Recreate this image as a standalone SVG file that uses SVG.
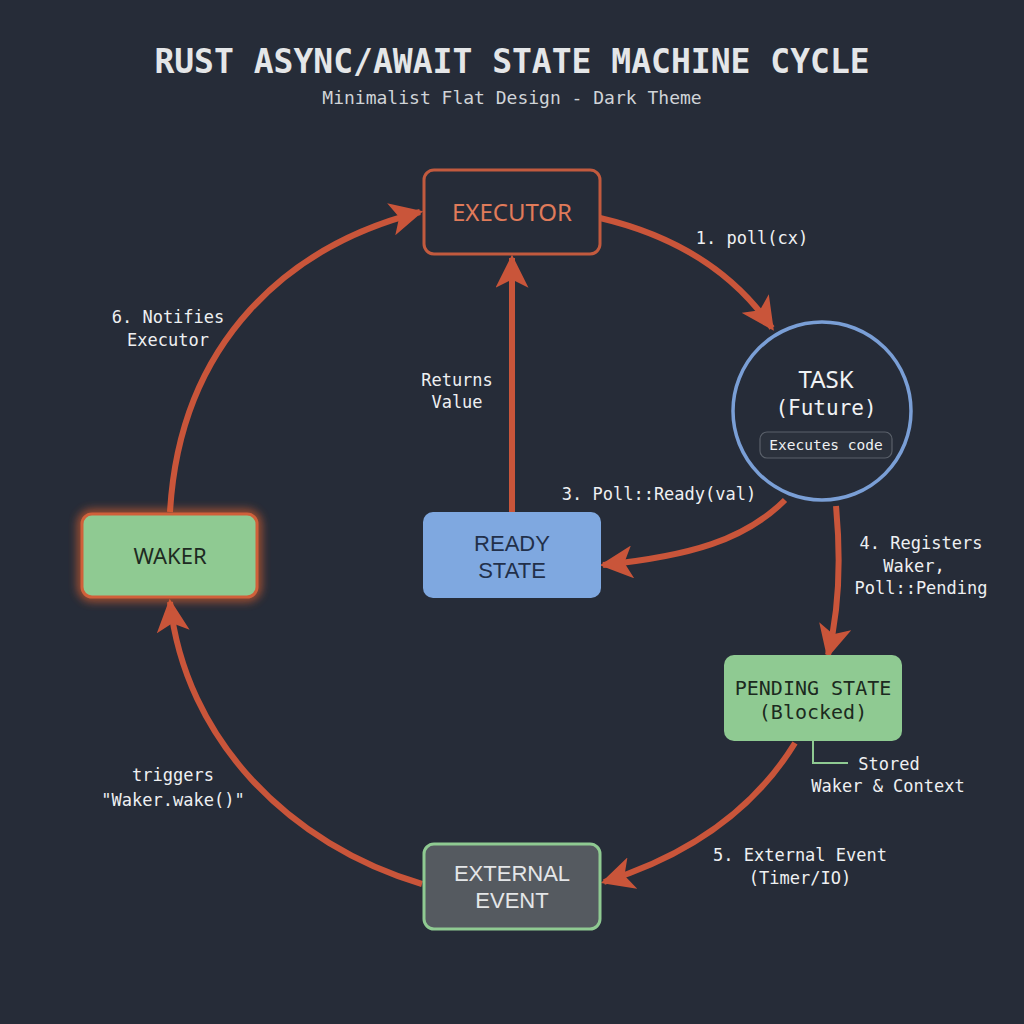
<svg xmlns="http://www.w3.org/2000/svg" width="1024" height="1024" viewBox="0 0 1024 1024">
<defs>
<marker id="ah" viewBox="0 0 10 10" refX="9" refY="5" markerWidth="5.5" markerHeight="5.5" markerUnits="strokeWidth" orient="auto">
<path d="M0,0 L10,5 L0,10 L2.5,5 Z" fill="#c9553a"/>
</marker>
<filter id="glow" x="-30%" y="-30%" width="160%" height="160%">
<feGaussianBlur stdDeviation="5"/>
</filter>
</defs>
<style>
.mono{font-family:"DejaVu Sans Mono","Liberation Mono",monospace}
.sans{font-family:"Noto Sans","Open Sans",sans-serif}
.sans2{font-family:"Liberation Sans","Noto Sans",sans-serif}
.lbl{font-family:"DejaVu Sans Mono","Liberation Mono",monospace;font-size:17px;fill:#eef0f2;text-anchor:middle}
.arr{fill:none;stroke:#c9553a;stroke-width:6;marker-end:url(#ah)}
</style>
<rect width="1024" height="1024" fill="#262c38"/>
<g id="title">
<text x="512" y="73" class="mono" font-size="33" font-weight="bold" fill="#e4e6e8" text-anchor="middle">RUST ASYNC/AWAIT STATE MACHINE CYCLE</text>
<text x="512" y="104" class="mono" font-size="18" fill="#d0d4d8" text-anchor="middle">Minimalist Flat Design - Dark Theme</text>
</g>
<g id="connectors">
<path class="arr" d="M600,218 Q715,245 772,328"/>
<path class="arr" d="M512,512 L512,258"/>
<path class="arr" d="M785,500 C745,540 690,556 603,565"/>
<path class="arr" d="M836,506 C842,570 838,615 828,655"/>
<path class="arr" d="M795,743 C760,800 700,852 604,882"/>
<path class="arr" d="M422,884 C290,845 185,740 170,602"/>
<path class="arr" d="M170,512 C180,340 290,245 420,212"/>
<path d="M813,741 L813,763 L848,763" fill="none" stroke="#8fca92" stroke-width="2"/>
</g>
<g id="labels">
<text x="752" y="244" class="lbl">1. poll(cx)</text>
<text x="457" y="386" class="lbl">Returns</text>
<text x="457" y="408" class="lbl">Value</text>
<text x="659" y="500" class="lbl">3. Poll::Ready(val)</text>
<text x="921" y="549" class="lbl">4. Registers</text>
<text x="914" y="572" class="lbl">Waker,</text>
<text x="921" y="594" class="lbl">Poll::Pending</text>
<text x="889" y="770" class="lbl">Stored</text>
<text x="888" y="792" class="lbl">Waker &amp; Context</text>
<text x="800" y="861" class="lbl">5. External Event</text>
<text x="800" y="884" class="lbl">(Timer/IO)</text>
<text x="173" y="781" class="lbl">triggers</text>
<text x="173" y="806" class="lbl">"Waker.wake()"</text>
<text x="168" y="323" class="lbl">6. Notifies</text>
<text x="168" y="346" class="lbl">Executor</text>
</g>
<g id="executor">
<rect x="424" y="170" width="176" height="84" rx="10" fill="#262c38" stroke="#c25a3e" stroke-width="3"/>
<text x="512" y="221" class="sans" font-size="24" fill="#e07b5a" text-anchor="middle">EXECUTOR</text>
</g>
<g id="task">
<circle cx="822" cy="411" r="89" fill="#262c38" stroke="#7a9fd6" stroke-width="3.5"/>
<text x="826" y="388" class="sans" font-size="24" fill="#f0f2f4" text-anchor="middle">TASK</text>
<text x="826" y="415" class="mono" font-size="21" fill="#f0f2f4" text-anchor="middle">(Future)</text>
<rect x="760" y="432" width="132" height="26" rx="7" fill="#2b313c" stroke="#5a606a" stroke-width="1.2"/>
<text x="826" y="450" class="mono" font-size="14.5" fill="#eef0f2" text-anchor="middle">Executes code</text>
</g>
<g id="waker">
<rect x="82" y="514" width="175" height="83" rx="10" fill="none" stroke="#e0602e" stroke-width="8" filter="url(#glow)" opacity="0.8"/>
<rect x="82" y="514" width="175" height="83" rx="10" fill="#8fca92" stroke="#d0603a" stroke-width="3"/>
<text x="170" y="564" class="sans" font-size="22" fill="#1e2a22" text-anchor="middle">WAKER</text>
</g>
<g id="ready">
<rect x="423" y="512" width="178" height="86" rx="10" fill="#7fa8e0"/>
<text x="512" y="551" class="sans2" font-size="22" fill="#22304a" text-anchor="middle">READY</text>
<text x="512" y="578" class="sans2" font-size="22" fill="#22304a" text-anchor="middle">STATE</text>
</g>
<g id="pending">
<rect x="724" y="655" width="178" height="86" rx="10" fill="#8fca92"/>
<text x="813" y="695" class="mono" font-size="20" fill="#1c2a20" text-anchor="middle">PENDING STATE</text>
<text x="813" y="719" class="mono" font-size="20" fill="#1c2a20" text-anchor="middle">(Blocked)</text>
</g>
<g id="external">
<rect x="424" y="844" width="176" height="85" rx="10" fill="#555a60" stroke="#8fca92" stroke-width="3"/>
<text x="512" y="881" class="sans2" font-size="22" fill="#e4e6e8" text-anchor="middle">EXTERNAL</text>
<text x="512" y="908" class="sans2" font-size="22" fill="#e4e6e8" text-anchor="middle">EVENT</text>
</g>
</svg>
